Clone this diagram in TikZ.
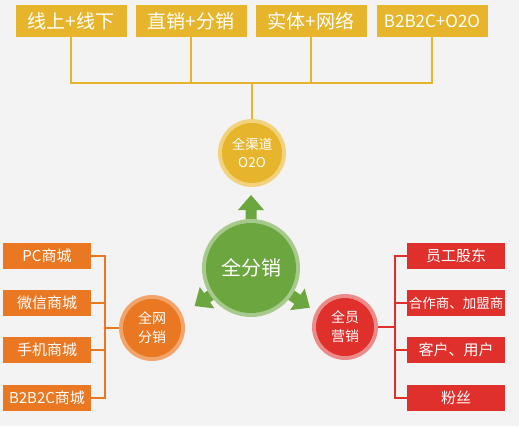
\documentclass[tikz,border=0pt]{standalone}
\usepackage{fontspec}
\setmainfont{Noto Sans CJK SC}
\newfontfamily\cjk{Noto Sans CJK SC}
\definecolor{bgc}{HTML}{F3F3F3}
\definecolor{gold}{HTML}{E6B52C}
\definecolor{goldring}{HTML}{F2D27C}
\definecolor{orng}{HTML}{EA7722}
\definecolor{orngring}{HTML}{F2A46A}
\definecolor{redc}{HTML}{E0302C}
\definecolor{redring}{HTML}{EC8C8A}
\definecolor{grn}{HTML}{6CA63E}
\definecolor{grnring}{HTML}{A7C98C}
\begin{document}
\begin{tikzpicture}[x=1pt,y=-1pt,
  topbox/.style={fill=gold,minimum width=111pt,minimum height=32pt,inner sep=0pt,text=white,font=\cjk\fontsize{19}{21}\selectfont},
  sidebox/.style={minimum width=88pt,minimum height=26pt,inner sep=0pt,text=white,font=\cjk\fontsize{15}{17}\selectfont},
  ringc/.style={circle,inner sep=0pt,text=white,align=center},
  goldline/.style={draw=gold,line width=2.2pt},
  orline/.style={draw=orng,line width=2pt},
  rdline/.style={draw=redc,line width=2pt},
  garrow/.style={fill=grn}
]
\useasboundingbox (0,0) rectangle (519,426);
\fill[bgc] (0,0) rectangle (519,426);

% top boxes
\node[topbox] (t1) at (71,21) {线上+线下};
\node[topbox] (t2) at (191,21) {直销+分销};
\node[topbox] (t3) at (311,21) {实体+网络};
\node[topbox,font=\cjk\fontsize{17}{19}\selectfont] (t4) at (432,21) {B2B2C+O2O};

\coordinate (h1) at (71,83);
\coordinate (h4) at (432,83);
\coordinate (hc) at (252,83);
\coordinate (h2) at (191,83);
\coordinate (h3) at (311,83);

% top circle
\node[ringc,fill=goldring,minimum size=68pt] (oring) at (252,153) {};
\node[ringc,fill=gold,minimum size=60pt,font=\cjk\fontsize{13.5}{18}\selectfont] (o2o) at (252,153) {全渠道\\O2O};

\draw[goldline] (t1.south) -- (h1) -- (h4) -- (t4.south);
\draw[goldline] (t2.south) -- (h2);
\draw[goldline] (t3.south) -- (h3);
\draw[goldline] (hc) -- (oring.north);

% green arrows
\foreach \ang/\len in {90/73, 214/68, -34/71}{
  \begin{scope}[shift={(251,268)},rotate=\ang]
  \fill[garrow] (0,5.5) -- (\len-15,5.5) -- (\len-15,13) -- (\len,0) -- (\len-15,-13) -- (\len-15,-5.5) -- (0,-5.5) -- cycle;
  \end{scope}
}
\node[ringc,fill=grnring,minimum size=98pt] (gring) at (251,268) {};
\node[ringc,fill=grn,minimum size=90pt,font=\cjk\fontsize{20}{22}\selectfont] (center) at (251,268) {全分销};

% left
\node[ringc,fill=orngring,minimum size=66pt] (lring) at (152,328) {};
\node[ringc,fill=orng,minimum size=58pt,font=\cjk\fontsize{14}{19}\selectfont] (left) at (152,328) {全网\\分销};
\node[sidebox,fill=orng] (l1) at (47,256) {PC商城};
\node[sidebox,fill=orng] (l2) at (47,303) {微信商城};
\node[sidebox,fill=orng] (l3) at (47,350) {手机商城};
\node[sidebox,fill=orng] (l4) at (47,398) {B2B2C商城};
\coordinate (lv1) at (105,256);
\coordinate (lv2) at (105,303);
\coordinate (lv3) at (105,350);
\coordinate (lv4) at (105,398);
\coordinate (lvc) at (105,328);
\draw[orline] (l1.east) -- (lv1) -- (lv4) -- (l4.east);
\draw[orline] (l2.east) -- (lv2);
\draw[orline] (l3.east) -- (lv3);
\draw[orline] (lvc) -- (lring.west);

% right
\node[ringc,fill=redring,minimum size=66pt] (rring) at (345,327) {};
\node[ringc,fill=redc,minimum size=58pt,font=\cjk\fontsize{14}{19}\selectfont] (right) at (345,327) {全员\\营销};
\node[sidebox,fill=redc,minimum width=98pt] (r1) at (456,256) {员工股东};
\node[sidebox,fill=redc,minimum width=98pt,font=\cjk\fontsize{13.5}{16}\selectfont] (r2) at (456,303) {合作商、加盟商};
\node[sidebox,fill=redc,minimum width=98pt] (r3) at (456,350) {客户、用户};
\node[sidebox,fill=redc,minimum width=98pt] (r4) at (456,398) {粉丝};
\coordinate (rv1) at (395,256);
\coordinate (rv2) at (395,303);
\coordinate (rv3) at (395,350);
\coordinate (rv4) at (395,398);
\coordinate (rvc) at (395,327);
\draw[rdline] (r1.west) -- (rv1) -- (rv4) -- (r4.west);
\draw[rdline] (r2.west) -- (rv2);
\draw[rdline] (r3.west) -- (rv3);
\draw[rdline] (rring.east) -- (rvc);
\end{tikzpicture}
\end{document}
